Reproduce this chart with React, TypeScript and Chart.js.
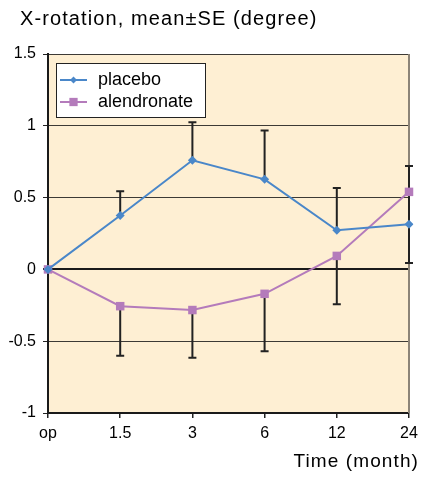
import React, { useEffect, useRef } from "react";
import { Chart, registerables } from "chart.js";

Chart.register(...registerables);

const titleText = "X-rotation, mean±SE (degree)";
const xAxisTitle = "Time (month)";
const categories = ["op", "1.5", "3", "6", "12", "24"];
const placeboLabel = "placebo";
const alendronateLabel = "alendronate";
const placebo = [0, 0.375, 0.76, 0.627, 0.272, 0.315];
const placeboSE = [0, 0.17, 0.265, 0.34, 0.295, 0.405];
const alendronate = [0, -0.256, -0.283, -0.17, 0.094, 0.54];
const alendronateSE = [0, 0.345, 0.333, 0.4, 0.336, 0.495];
const yMin = -1;
const yMax = 1.5;
const yStep = 0.5;

const BLUE = "#4a87c9";
const PURPLE = "#b47bbb";
const TEXT = "#000000";
const FONT = "'Liberation Sans', Arial, Helvetica, sans-serif";

const decorPlugin = {
  id: "decor",
  beforeDraw(chart: any) {
    const { ctx, chartArea: a } = chart;
    ctx.save();
    ctx.fillStyle = "#feefd3";
    ctx.fillRect(a.left, a.top, a.right - a.left, a.bottom - a.top);
    ctx.restore();
  },
  beforeDatasetsDraw(chart: any) {
    const { ctx, chartArea: a } = chart;
    const xs = chart.scales.x;
    const ys = chart.scales.y;
    ctx.save();
    // right border
    ctx.strokeStyle = "#8c8478";
    ctx.lineWidth = 2;
    ctx.beginPath();
    ctx.moveTo(a.right, a.top);
    ctx.lineTo(a.right, a.bottom);
    ctx.stroke();

    ctx.strokeStyle = "#222222";
    ctx.lineWidth = 2;
    const cap = 4;
    const drawBar = (vals: number[], se: number[], dir: number) => {
      vals.forEach((v, i) => {
        if (!se[i]) return;
        const x = xs.getPixelForValue(i);
        const y0 = ys.getPixelForValue(v);
        const y1 = ys.getPixelForValue(v + dir * se[i]);
        ctx.beginPath();
        ctx.moveTo(x, y0);
        ctx.lineTo(x, y1);
        ctx.moveTo(x - cap, y1);
        ctx.lineTo(x + cap, y1);
        ctx.stroke();
      });
    };
    drawBar(placebo, placeboSE, 1);
    drawBar(alendronate, alendronateSE, -1);
    ctx.restore();
  },
  afterDraw(chart: any) {
    const { ctx } = chart;
    ctx.save();
    // title
    ctx.fillStyle = TEXT;
    ctx.font = `20px ${FONT}`;
    (ctx as any).letterSpacing = "1.1px";
    ctx.textAlign = "left";
    ctx.textBaseline = "alphabetic";
    ctx.fillText(titleText, 20, 25);

    // x axis title
    ctx.font = `19px ${FONT}`;
    ctx.textAlign = "right";
    ctx.fillText(xAxisTitle, 419, 467);
    (ctx as any).letterSpacing = "0px";

    // legend
    const lx = 56, ly = 63, lw = 149, lh = 54;
    ctx.fillStyle = "#ffffff";
    ctx.fillRect(lx, ly, lw, lh);
    ctx.strokeStyle = "#222222";
    ctx.lineWidth = 1;
    ctx.strokeRect(lx + 0.5, ly + 0.5, lw, lh);
    const items = [
      { label: placeboLabel, color: BLUE, style: "rectRot", r: 3.5, y: 80 },
      { label: alendronateLabel, color: PURPLE, style: "rect", r: 4.5, y: 102 },
    ];
    items.forEach((it) => {
      ctx.strokeStyle = it.color;
      ctx.lineWidth = 2;
      ctx.beginPath();
      ctx.moveTo(60, it.y);
      ctx.lineTo(87, it.y);
      ctx.stroke();
      ctx.fillStyle = it.color;
      ctx.beginPath();
      if (it.style === "rect") {
        const s = it.r * Math.SQRT1_2 * 1.3;
        ctx.rect(73.5 - s, it.y - s, 2 * s, 2 * s);
      } else {
        ctx.moveTo(73.5, it.y - it.r);
        ctx.lineTo(73.5 + it.r, it.y);
        ctx.lineTo(73.5, it.y + it.r);
        ctx.lineTo(73.5 - it.r, it.y);
        ctx.closePath();
      }
      ctx.fill();
      ctx.fillStyle = TEXT;
      ctx.font = `18px ${FONT}`;
      ctx.textAlign = "left";
      ctx.textBaseline = "middle";
      ctx.fillText(it.label, 98, it.y);
    });
    ctx.restore();
  },
};

export default function App() {
  const ref = useRef<HTMLCanvasElement | null>(null);
  useEffect(() => {
    if (!ref.current) return;
    const chart = new Chart(ref.current, {
      type: "line",
      data: {
        labels: categories,
        datasets: [
          {
            label: placeboLabel,
            data: placebo,
            borderColor: BLUE,
            backgroundColor: BLUE,
            borderWidth: 2,
            pointStyle: "rectRot",
            pointRadius: 4.5,
            pointBorderWidth: 0,
            tension: 0,
          },
          {
            label: alendronateLabel,
            data: alendronate,
            borderColor: PURPLE,
            backgroundColor: PURPLE,
            borderWidth: 2,
            pointStyle: "rect",
            pointRadius: 6,
            pointBorderWidth: 0,
            tension: 0,
          },
        ],
      },
      options: {
        responsive: false,
        animation: false,
        devicePixelRatio: 1,
        layout: { padding: { top: 54, right: 15, left: 0, bottom: 0 } },
        plugins: {
          legend: { display: false },
          title: { display: false },
          tooltip: { enabled: false },
        },
        scales: {
          x: {
            type: "category",
            offset: false,
            afterFit: (s: any) => {
              s.height = 64;
            },
            grid: {
              drawOnChartArea: false,
              drawTicks: true,
              tickLength: 5,
              tickColor: "#222222",
              lineWidth: 1.5,
            },
            border: { display: true, color: "#1a1a1a", width: 2 },
            ticks: {
              color: TEXT,
              font: { family: FONT, size: 16 },
              padding: 6,
              maxRotation: 0,
            },
          },
          y: {
            min: yMin,
            max: yMax,
            afterFit: (s: any) => {
              s.width = 48;
            },
            grid: {
              drawOnChartArea: true,
              drawTicks: true,
              tickLength: 5,
              tickColor: "#222222",
              color: (c: any) => (c.tick && c.tick.value === 0 ? "#1a1a1a" : "#3d3a35"),
              lineWidth: (c: any) => (c.tick && c.tick.value === 0 ? 2 : 1),
            },
            border: { display: true, color: "#1a1a1a", width: 2 },
            ticks: {
              stepSize: yStep,
              color: TEXT,
              font: { family: FONT, size: 16 },
              padding: 7,
              callback: (v: any) => String(Number(v)),
            },
          },
        },
      },
      plugins: [decorPlugin],
    });
    return () => chart.destroy();
  }, []);
  return (
    <div style={{ position: "fixed", left: 0, top: 0, width: 424, height: 477, background: "#ffffff" }}>
      <canvas ref={ref} width={424} height={477} style={{ display: "block", width: 424, height: 477 }} />
    </div>
  );
}
